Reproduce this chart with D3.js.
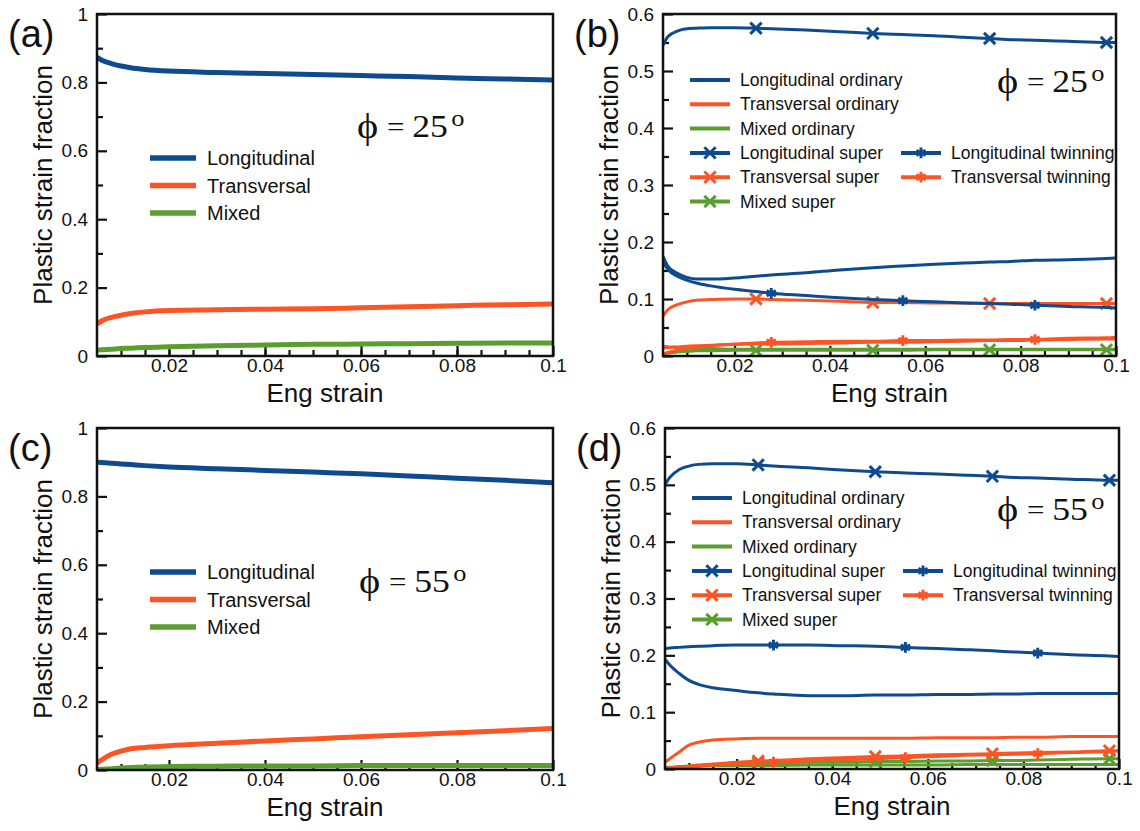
<!DOCTYPE html>
<html>
<head>
<meta charset="utf-8">
<script src="https://cdn.jsdelivr.net/npm/d3@7"></script>
<style>
  body { margin: 0; background: #fff; }
  svg { display: block; }
  text { font-family: "Liberation Sans", Arial, sans-serif; fill: #111; }
  .phi text { font-family: "Liberation Serif", "Times New Roman", serif; }
</style>
</head>
<body>
<svg width="1140" height="831"></svg>
<script>
// strain samples, panels (a)/(c)
const xsAC = [0.005, 0.006, 0.008, 0.01, 0.012, 0.015, 0.02, 0.03, 0.04, 0.05, 0.06, 0.07, 0.08, 0.09, 0.1];
const aLong  = [0.873, 0.865, 0.855, 0.848, 0.843, 0.838, 0.833, 0.829, 0.826, 0.823, 0.82, 0.817, 0.813, 0.81, 0.807];
const aTrans = [0.094, 0.103, 0.113, 0.119, 0.124, 0.129, 0.133, 0.135, 0.137, 0.138, 0.141, 0.144, 0.147, 0.15, 0.152];
const aMixed = [0.017, 0.018, 0.02, 0.022, 0.023, 0.025, 0.027, 0.03, 0.032, 0.034, 0.035, 0.036, 0.037, 0.038, 0.038];
const cLong  = [0.9, 0.899, 0.897, 0.895, 0.893, 0.89, 0.886, 0.881, 0.876, 0.871, 0.866, 0.86, 0.853, 0.847, 0.84];
const cTrans = [0.02, 0.03, 0.046, 0.055, 0.062, 0.066, 0.071, 0.078, 0.085, 0.091, 0.097, 0.103, 0.109, 0.115, 0.121];
const cMixed = [0.001, 0.002, 0.004, 0.006, 0.007, 0.009, 0.01, 0.011, 0.012, 0.012, 0.013, 0.013, 0.013, 0.013, 0.013];

// strain samples, panels (b)/(d)
const xsBD = [0.005, 0.006, 0.008, 0.01, 0.012, 0.015, 0.02, 0.0245, 0.0277, 0.035, 0.042, 0.049, 0.0553, 0.062, 0.068, 0.0735, 0.078, 0.083, 0.09, 0.098, 0.1];
const bLongOrd   = [0.175, 0.158, 0.145, 0.138, 0.135, 0.135, 0.137, 0.14, 0.142, 0.146, 0.151, 0.155, 0.158, 0.161, 0.163, 0.165, 0.166, 0.168, 0.169, 0.171, 0.172];
const bTransOrd  = [0.014, 0.015, 0.016, 0.017, 0.018, 0.019, 0.02, 0.021, 0.021, 0.022, 0.023, 0.024, 0.024, 0.025, 0.026, 0.027, 0.027, 0.028, 0.029, 0.03, 0.03];
const bMixedOrd  = [0.017, 0.016, 0.015, 0.014, 0.013, 0.013, 0.012, 0.012, 0.012, 0.012, 0.012, 0.012, 0.012, 0.012, 0.012, 0.012, 0.012, 0.012, 0.012, 0.012, 0.012];
const bLongSup   = [0.545, 0.56, 0.57, 0.574, 0.575, 0.576, 0.576, 0.575, 0.574, 0.572, 0.569, 0.566, 0.564, 0.562, 0.559, 0.557, 0.555, 0.554, 0.552, 0.55, 0.55];
const bTransSup  = [0.07, 0.081, 0.09, 0.095, 0.098, 0.099, 0.1, 0.1, 0.099, 0.098, 0.096, 0.094, 0.094, 0.093, 0.093, 0.092, 0.092, 0.092, 0.092, 0.092, 0.092];
const bMixedSup  = [0.004, 0.005, 0.007, 0.008, 0.009, 0.009, 0.01, 0.01, 0.01, 0.01, 0.01, 0.01, 0.01, 0.011, 0.011, 0.011, 0.011, 0.011, 0.011, 0.011, 0.011];
const bLongTwin  = [0.165, 0.152, 0.14, 0.133, 0.128, 0.123, 0.117, 0.113, 0.11, 0.106, 0.102, 0.099, 0.097, 0.095, 0.093, 0.092, 0.091, 0.089, 0.087, 0.085, 0.084];
const bTransTwin = [0.004, 0.006, 0.01, 0.013, 0.015, 0.018, 0.021, 0.023, 0.024, 0.025, 0.026, 0.026, 0.027, 0.027, 0.028, 0.028, 0.029, 0.029, 0.031, 0.032, 0.033];

const dLongOrd   = [0.193, 0.183, 0.168, 0.156, 0.149, 0.143, 0.138, 0.134, 0.132, 0.129, 0.129, 0.13, 0.13, 0.131, 0.131, 0.132, 0.132, 0.133, 0.133, 0.133, 0.133];
const dTransOrd  = [0.012, 0.018, 0.03, 0.042, 0.047, 0.051, 0.053, 0.054, 0.054, 0.054, 0.054, 0.054, 0.054, 0.055, 0.055, 0.055, 0.056, 0.056, 0.057, 0.057, 0.057];
const dMixedOrd  = [0.002, 0.003, 0.004, 0.005, 0.005, 0.006, 0.006, 0.006, 0.006, 0.007, 0.007, 0.007, 0.007, 0.007, 0.008, 0.008, 0.008, 0.008, 0.008, 0.008, 0.008];
const dLongSup   = [0.5, 0.513, 0.527, 0.533, 0.536, 0.537, 0.537, 0.535, 0.533, 0.53, 0.526, 0.523, 0.521, 0.519, 0.517, 0.515, 0.513, 0.512, 0.51, 0.508, 0.508];
const dTransSup  = [0.001, 0.002, 0.003, 0.005, 0.007, 0.009, 0.012, 0.014, 0.015, 0.018, 0.02, 0.022, 0.023, 0.025, 0.026, 0.027, 0.028, 0.029, 0.03, 0.032, 0.032];
const dMixedSup  = [0.001, 0.002, 0.004, 0.005, 0.006, 0.007, 0.009, 0.01, 0.011, 0.012, 0.012, 0.013, 0.013, 0.014, 0.014, 0.015, 0.015, 0.016, 0.017, 0.018, 0.018];
const dLongTwin  = [0.212, 0.213, 0.214, 0.215, 0.216, 0.217, 0.218, 0.218, 0.218, 0.218, 0.217, 0.216, 0.214, 0.212, 0.21, 0.208, 0.206, 0.204, 0.201, 0.199, 0.198];
const dTransTwin = [0.001, 0.002, 0.003, 0.004, 0.005, 0.007, 0.009, 0.011, 0.012, 0.014, 0.016, 0.018, 0.02, 0.022, 0.024, 0.025, 0.026, 0.027, 0.029, 0.031, 0.032];

const superMarks = [0.0245, 0.049, 0.0735, 0.098];
const twinMarks = [0.0277, 0.0553, 0.083];

const legendShort = ['Longitudinal', 'Transversal', 'Mixed'];
const legendLong = ['Longitudinal ordinary', 'Transversal ordinary', 'Mixed ordinary',
  'Longitudinal super', 'Transversal super', 'Mixed super',
  'Longitudinal twinning', 'Transversal twinning'];

const BLUE = '#0d4b8e', ORANGE = '#fc5424', GREEN = '#5a9e2f';

const svg = d3.select('svg');
const fmt = d3.format('~g');

const symbolFor = m => m === 'times' ? d3.symbolTimes : d3.symbolAsterisk;

const panel = (p) => {
  const { id, left, right, top, bottom, yMax, yStep, label, angle, series, legend, lw, phiPos, legendPos } = p;
  const g = svg.append('g');
  const x = d3.scaleLinear().domain([0.005, 0.1]).range([left, right]);
  const y = d3.scaleLinear().domain([0, yMax]).range([bottom, top]);

  g.append('clipPath').attr('id', 'clip-' + id)
    .append('rect').attr('x', left).attr('y', top).attr('width', right - left).attr('height', bottom - top);

  // minor ticks
  const xMinor = d3.range(0.01, 0.1, 0.005);
  const yMinor = d3.range(yStep / 2, yMax, yStep);
  g.append('g').attr('transform', `translate(0,${bottom})`)
    .call(d3.axisBottom(x).tickValues(xMinor).tickSize(-6).tickFormat(''))
    .call(s => s.select('.domain').remove());
  g.append('g').attr('transform', `translate(${left},0)`)
    .call(d3.axisLeft(y).tickValues(yMinor).tickSize(-6).tickFormat(''))
    .call(s => s.select('.domain').remove());

  // major ticks
  g.append('g').attr('transform', `translate(0,${bottom})`)
    .call(d3.axisBottom(x).tickValues([0.02, 0.04, 0.06, 0.08, 0.1]).tickSize(-10).tickPadding(2).tickFormat(fmt))
    .call(s => s.select('.domain').remove())
    .call(s => s.selectAll('text').style('font-size', '19px').attr('fill', '#111'));
  g.append('g').attr('transform', `translate(${left},0)`)
    .call(d3.axisLeft(y).tickValues(d3.range(0, yMax + 1e-9, yStep)).tickSize(-10).tickPadding(9).tickFormat(fmt))
    .call(s => s.select('.domain').remove())
    .call(s => s.selectAll('text').style('font-size', '19px').attr('fill', '#111'));
  g.selectAll('.tick line').attr('stroke', '#111').attr('stroke-width', 2.2);

  // curves
  const line = d3.line().x(d => x(d[0])).y(d => y(d[1])).curve(d3.curveMonotoneX);
  const plot = g.append('g').attr('clip-path', `url(#clip-${id})`);
  series.forEach(s => {
    const pts = s.xs.map((v, i) => [v, s.ys[i]]);
    plot.append('path').datum(pts)
      .attr('d', line)
      .attr('fill', 'none')
      .attr('stroke', s.color)
      .attr('stroke-width', lw)
      .attr('stroke-linejoin', 'round');
    if (s.marker) {
      plot.selectAll(null)
        .data(pts.filter(d => s.marks.includes(d[0])))
        .enter().append('path')
        .attr('transform', d => `translate(${x(d[0])},${y(d[1])})`)
        .attr('d', d3.symbol(symbolFor(s.marker), s.marker === 'times' ? 85 : 80))
        .attr('fill', 'none')
        .attr('stroke', s.color)
        .attr('stroke-width', 3);
    }
  });

  // frame
  g.append('rect')
    .attr('x', left).attr('y', top)
    .attr('width', right - left).attr('height', bottom - top)
    .attr('fill', 'none').attr('stroke', '#111').attr('stroke-width', 2.5);

  // axis titles
  g.append('text')
    .attr('transform', `translate(${left - 45},${(top + bottom) / 2}) rotate(-90)`)
    .attr('text-anchor', 'middle')
    .style('font-size', '26px')
    .text('Plastic strain fraction');
  g.append('text')
    .attr('x', (left + right) / 2).attr('y', bottom + 46)
    .attr('text-anchor', 'middle')
    .style('font-size', '26px')
    .text('Eng strain');

  // panel label
  g.append('text')
    .attr('x', left - 89).attr('y', top + 33)
    .style('font-size', '38px')
    .text(label);

  // phi annotation
  const ph = g.append('g').attr('class', 'phi')
    .attr('transform', `translate(${left + phiPos[0]},${top + phiPos[1]}) scale(1.15,1)`);
  ph.append('text').attr('x', 0).attr('y', 1).style('font-size', '35px').text('\u03D5');
  ph.append('text').attr('x', 26).attr('y', -1).style('font-size', '27px').text('=');
  ph.append('text').attr('x', 48).attr('y', 0).style('font-size', '31px').text(angle);
  ph.append('text').attr('x', 82).attr('y', -11).style('font-size', '23px').text('o');

  // legend
  const lg = g.append('g');
  legend.forEach(it => {
    const lx = left + it.x0, ly = top + it.y;
    lg.append('line')
      .attr('x1', lx).attr('x2', lx + legendPos.len)
      .attr('y1', ly).attr('y2', ly)
      .attr('stroke', it.color).attr('stroke-width', legendPos.lw);
    if (it.marker) {
      lg.append('path')
        .attr('transform', `translate(${lx + legendPos.len / 2},${ly})`)
        .attr('d', d3.symbol(symbolFor(it.marker), it.marker === 'times' ? 85 : 80))
        .attr('fill', 'none').attr('stroke', it.color).attr('stroke-width', 3);
    }
    lg.append('text')
      .attr('x', lx + legendPos.len + legendPos.gap).attr('y', ly)
      .attr('dy', '0.35em')
      .style('font-size', legendPos.font)
      .text(it.label);
  });
};

const simpleLegend = [BLUE, ORANGE, GREEN].map((c, i) => ({
  label: legendShort[i], color: c, marker: null, x0: 53, y: 144 + i * 27.5
}));

const fullLegend = (top0) => {
  const colors = [BLUE, ORANGE, GREEN, BLUE, ORANGE, GREEN, BLUE, ORANGE];
  const markers = [null, null, null, 'times', 'times', 'times', 'asterisk', 'asterisk'];
  const rows = [0, 1, 2, 3, 4, 5, 3, 4];
  return legendLong.map((l, i) => ({
    label: l, color: colors[i], marker: markers[i],
    x0: i < 6 ? 27 : 238,
    y: top0 + rows[i] * 24.3
  }));
};

const threeSeries = (long, trans, mixed) => [
  { xs: xsAC, ys: mixed, color: GREEN },
  { xs: xsAC, ys: trans, color: ORANGE },
  { xs: xsAC, ys: long, color: BLUE }
];

const eightSeries = (lo, to, mo, ls, ts, ms, lt, tt) => [
  { xs: xsBD, ys: mo, color: GREEN },
  { xs: xsBD, ys: ms, color: GREEN, marker: 'times', marks: superMarks },
  { xs: xsBD, ys: to, color: ORANGE },
  { xs: xsBD, ys: tt, color: ORANGE, marker: 'asterisk', marks: twinMarks },
  { xs: xsBD, ys: ts, color: ORANGE, marker: 'times', marks: superMarks },
  { xs: xsBD, ys: lo, color: BLUE },
  { xs: xsBD, ys: ls, color: BLUE, marker: 'times', marks: superMarks },
  { xs: xsBD, ys: lt, color: BLUE, marker: 'asterisk', marks: twinMarks }
];

const legendSmall = { len: 40, gap: 10, lw: 4, font: '17.5px' };
const legendBig = { len: 46, gap: 11, lw: 5.5, font: '20px' };

panel({ id: 'a', left: 97, right: 553, top: 14, bottom: 356, yMax: 1, yStep: 0.2, label: '(a)', angle: '25',
  series: threeSeries(aLong, aTrans, aMixed), legend: simpleLegend, lw: 5,
  phiPos: [260, 123], legendPos: legendBig });

panel({ id: 'b', left: 663, right: 1116, top: 14, bottom: 356, yMax: 0.6, yStep: 0.1, label: '(b)', angle: '25',
  series: eightSeries(bLongOrd, bTransOrd, bMixedOrd, bLongSup, bTransSup, bMixedSup, bLongTwin, bTransTwin),
  legend: fullLegend(66), lw: 3, phiPos: [334, 78], legendPos: legendSmall });

panel({ id: 'c', left: 97, right: 553, top: 428, bottom: 770, yMax: 1, yStep: 0.2, label: '(c)', angle: '55',
  series: threeSeries(cLong, cTrans, cMixed), legend: simpleLegend, lw: 5,
  phiPos: [262, 164], legendPos: legendBig });

panel({ id: 'd', left: 665, right: 1119, top: 428, bottom: 769, yMax: 0.6, yStep: 0.1, label: '(d)', angle: '55',
  series: eightSeries(dLongOrd, dTransOrd, dMixedOrd, dLongSup, dTransSup, dMixedSup, dLongTwin, dTransTwin),
  legend: fullLegend(70), lw: 3, phiPos: [332, 92], legendPos: legendSmall });
</script>
</body>
</html>
